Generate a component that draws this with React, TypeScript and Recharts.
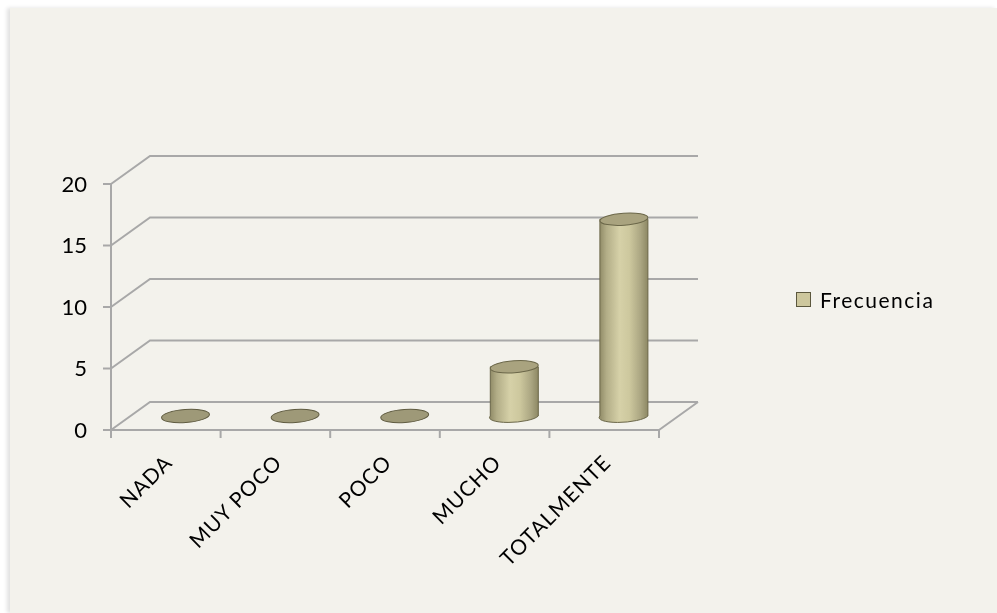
import React from 'react';
import {
  BarChart,
  Bar,
  XAxis,
  YAxis,
  CartesianGrid,
  Legend,
} from 'recharts';

const categories = ['NADA', 'MUY POCO', 'POCO', 'MUCHO', 'TOTALMENTE'];
const frecuencia = [0, 0, 0, 4, 16];
const yTicks = [0, 5, 10, 15, 20];

const chartData = categories.map((name, i) => ({ name, Frecuencia: frecuencia[i] }));

// 3D depth of the floor / back wall
const DX = 39;
const DY = 28;
const PLOT_LEFT = 101;
const PLOT_WIDTH = 548;
const PLOT_TOP = 176;
const PLOT_BOTTOM = 422;
const BAND = PLOT_WIDTH / categories.length;
const GRID = '#a8a8a8';
const FONT = 'Lato, "Open Sans", sans-serif';

function GridLine(props: any) {
  const { x1, x2, y1 } = props;
  const isFloor = Math.abs(y1 - PLOT_BOTTOM) < 1;
  let d = `M${x1},${y1} L${x1 + DX},${y1 - DY} L${x2 + DX},${y1 - DY}`;
  if (isFloor) d += ` M${x2},${y1} L${x2 + DX},${y1 - DY}`;
  return <path key={props.key} d={d} fill="none" stroke={GRID} strokeWidth={2} />;
}

function Cylinder(props: any) {
  const { x, y, width, height, index } = props;
  const cx = x + width / 2 + DX / 2;
  const rx = width / 2;
  const ry = 6;
  const top = y - DY / 2;
  const bottom = y + height - DY / 2;
  const id = `cyl-grad-${index}`;
  if (!height || height < 1) {
    return (
      <ellipse
        cx={cx}
        cy={bottom}
        rx={rx}
        ry={6.5}
        fill="#9e9978"
        stroke="#5f5b40"
        strokeWidth={1}
        transform={`rotate(-4, ${cx}, ${bottom})`}
      />
    );
  }
  const body = `M${cx - rx},${top} L${cx - rx},${bottom} A${rx},${ry} -4 0 0 ${cx + rx},${bottom} L${cx + rx},${top} Z`;
  return (
    <g>
      <defs>
        <linearGradient id={id} x1="0" y1="0" x2="1" y2="0">
          <stop offset="0%" stopColor="#8d8864" />
          <stop offset="15%" stopColor="#b2ad87" />
          <stop offset="42%" stopColor="#d6d1a8" />
          <stop offset="62%" stopColor="#cdc89e" />
          <stop offset="85%" stopColor="#aba682" />
          <stop offset="100%" stopColor="#8d8864" />
        </linearGradient>
      </defs>
      <path d={body} fill={`url(#${id})`} stroke="#6b6749" strokeWidth={1} />
      <ellipse
        cx={cx}
        cy={top}
        rx={rx}
        ry={ry}
        fill="#a9a37f"
        stroke="#6b6749"
        strokeWidth={1}
        transform={`rotate(-4, ${cx}, ${top})`}
      />
    </g>
  );
}

function CategoryTick(props: any) {
  const { x, payload, index } = props;
  const ax = x + 8;
  const ay = PLOT_BOTTOM + 34;
  const left = x - BAND / 2;
  const right = x + BAND / 2;
  return (
    <g>
      <line x1={left} y1={PLOT_BOTTOM} x2={left} y2={PLOT_BOTTOM + 8} stroke={GRID} strokeWidth={2} />
      {index === categories.length - 1 && (
        <line x1={right} y1={PLOT_BOTTOM} x2={right} y2={PLOT_BOTTOM + 8} stroke={GRID} strokeWidth={2} />
      )}
      <text
        x={ax}
        y={ay}
        textAnchor="end"
        fontFamily={FONT}
        fontSize={21}
        letterSpacing={1}
        fill="#000"
        transform={`rotate(-45, ${ax}, ${ay})`}
      >
        {payload.value}
      </text>
    </g>
  );
}

function LegendContent() {
  return (
    <div
      style={{
        display: 'flex',
        alignItems: 'center',
        fontFamily: FONT,
        fontSize: 21,
        letterSpacing: 1.5,
        color: '#000',
        whiteSpace: 'nowrap',
      }}
    >
      <span
        style={{
          display: 'inline-block',
          width: 13,
          height: 13,
          background: '#cdc79d',
          border: '1px solid #5b573d',
        }}
      />
      <span style={{ marginLeft: 9 }}>Frecuencia</span>
    </div>
  );
}

export default function App() {
  return (
    <div
      style={{
        position: 'fixed',
        left: 10,
        top: 8,
        width: 987,
        height: 605,
        background: '#f3f2ec',
        boxShadow: '-3px 0 4px rgba(0,0,0,0.12)',
      }}
    >
      <BarChart
        width={987}
        height={605}
        data={chartData}
        margin={{ top: PLOT_TOP, right: 987 - PLOT_LEFT - PLOT_WIDTH, bottom: 0, left: 0 }}
        barSize={48}
      >
        <CartesianGrid vertical={false} horizontal={GridLine} />
        <XAxis
          dataKey="name"
          height={183}
          axisLine={{ stroke: GRID, strokeWidth: 2 }}
          tickLine={false}
          tick={CategoryTick}
          interval={0}
        />
        <YAxis
          width={PLOT_LEFT}
          domain={[0, 20]}
          ticks={yTicks}
          axisLine={{ stroke: GRID, strokeWidth: 2 }}
          tickLine={{ stroke: GRID, strokeWidth: 2 }}
          tickSize={8}
          tickMargin={16}
          tick={{ fontFamily: FONT, fontSize: 22, fill: '#000' }}
        />
        <Legend
          layout="horizontal"
          verticalAlign="middle"
          align="center"
          content={LegendContent}
          wrapperStyle={{ left: 786, top: 279, width: 'auto' }}
        />
        <Bar dataKey="Frecuencia" shape={Cylinder} isAnimationActive={false} />
      </BarChart>
    </div>
  );
}
